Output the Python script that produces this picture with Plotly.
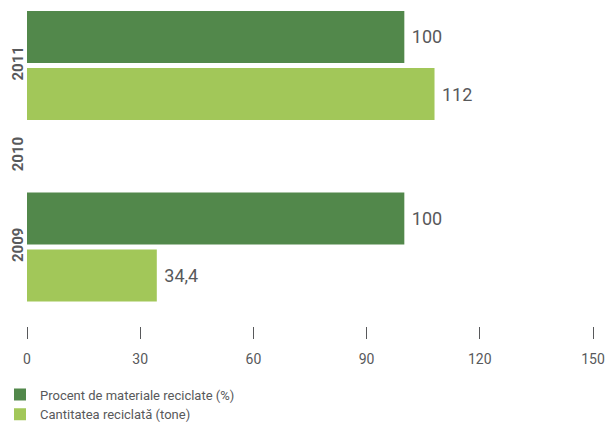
import plotly.graph_objects as go

years = ["2011", "2010", "2009"]
procent = [100, None, 100]
procent_labels = ["100", "", "100"]
cantitate = [108, None, 34.4]
cantitate_labels = ["112", "", "34,4"]
x_ticks = [0, 30, 60, 90, 120, 150]

pos = [2, 1, 0]
DARK = "#52884b"
LIGHT = "#a2c759"
GREY = "#58595b"
FONT = "Roboto"

fig = go.Figure()
fig.add_trace(go.Bar(
    y=pos, x=procent, orientation="h", name="Procent de materiale reciclate (%)",
    marker=dict(color=DARK, line=dict(width=0)), width=0.573, offset=0.028,
    text=procent_labels, texttemplate="\u00a0%{text}", textposition="outside", cliponaxis=False,
    textfont=dict(size=18, color=GREY, family=FONT),
))
fig.add_trace(go.Bar(
    y=pos, x=cantitate, orientation="h", name="Cantitatea reciclată (tone)",
    marker=dict(color=LIGHT, line=dict(width=0)), width=0.573, offset=-0.601,
    text=cantitate_labels, texttemplate="\u00a0%{text}", textposition="outside", cliponaxis=False,
    textfont=dict(size=18, color=GREY, family=FONT),
))

fig.update_layout(
    width=606, height=424,
    margin=dict(l=27, r=13, t=0, b=98, autoexpand=False),
    paper_bgcolor="white", plot_bgcolor="white",
    barmode="overlay",
    showlegend=True,
    font=dict(family=FONT, color=GREY),
    legend=dict(
        xref="container", yref="container", x=0, y=0.105,
        xanchor="left", yanchor="top", orientation="v",
        font=dict(size=13, color=GREY, family=FONT),
        tracegroupgap=0, itemwidth=30, traceorder="normal",
        bgcolor="rgba(0,0,0,0)",
    ),
    xaxis=dict(
        range=[0, 150], tickvals=x_ticks, ticktext=[str(v) for v in x_ticks],
        showgrid=False, zeroline=False, showline=False,
        ticks="outside", ticklen=12, tickwidth=1, tickcolor=GREY,
        ticklabelstandoff=8, automargin=False,
        tickfont=dict(size=14, color=GREY, family=FONT),
    ),
    yaxis=dict(
        range=[-0.870, 2.722], tickvals=pos, ticktext=years,
        showgrid=False, zeroline=False, showline=False, ticks="",
        tickangle=-90, automargin=False,
        tickfont=dict(size=15, color=GREY, family=FONT, weight="bold"),
    ),
)

fig.write_html("out.html")
